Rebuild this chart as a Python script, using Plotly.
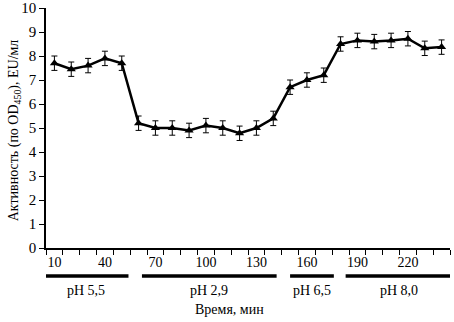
import plotly.graph_objects as go

time_min = [10, 20, 30, 40, 50, 60, 70, 80, 90, 100, 110, 120, 130, 140,
            150, 160, 170, 180, 190, 200, 210, 220, 230, 240]
activity = [7.7, 7.45, 7.6, 7.9, 7.7, 5.2, 5.0, 5.0, 4.9, 5.1, 5.0, 4.78, 5.0, 5.4,
            6.7, 7.0, 7.2, 8.5, 8.65, 8.6, 8.65, 8.72, 8.32, 8.37]
errors = [0.3] * len(activity)

tick_labels = [10, 40, 70, 100, 130, 160, 190, 220]
minor_ticks = list(range(5, 250, 10))

ph_labels = ["pH 5,5", "pH 2,9", "pH 6,5", "pH 8,0"]
ph_start = [3, 62, 150, 183]
ph_end = [54, 142, 176, 246]

FONT = "Liberation Serif"

fig = go.Figure()
fig.add_trace(go.Scatter(
    x=time_min, y=activity, mode="lines+markers",
    line=dict(color="black", width=2.5),
    marker=dict(symbol="triangle-up", size=8, color="black"),
    error_y=dict(type="data", array=errors, color="black", thickness=1, width=3),
    showlegend=False,
))

shapes = []
annotations = []
for lab, a, b in zip(ph_labels, ph_start, ph_end):
    shapes.append(dict(type="line", xref="x", yref="paper", x0=a, x1=b,
                       y0=-0.117, y1=-0.117, line=dict(color="black", width=3.5)))
    annotations.append(dict(x=(a + b) / 2, y=-0.179, xref="x", yref="paper",
                            text=lab, showarrow=False, yanchor="middle",
                            font=dict(family=FONT, size=14, color="black")))
annotations.append(dict(x=0.455, y=-0.258, xref="paper", yref="paper",
                        text="Время, мин", showarrow=False, yanchor="middle",
                        font=dict(family=FONT, size=14, color="black")))
annotations.append(dict(x=-0.077, y=0.49, xref="paper", yref="paper",
                        text="Активность (по OD<sub>450</sub>), EU/мл",
                        textangle=-90, showarrow=False,
                        xanchor="center", yanchor="middle",
                        font=dict(family=FONT, size=14, color="black")))

fig.update_layout(
    width=454, height=322,
    margin=dict(l=46, r=4, t=8, b=74),
    plot_bgcolor="white", paper_bgcolor="white",
    font=dict(family=FONT, size=14, color="black"),
    shapes=shapes, annotations=annotations,
    xaxis=dict(range=[5, 245], tickvals=tick_labels, ticks="", showgrid=False,
               zeroline=False, showline=True, linecolor="black", linewidth=1.5,
               tickfont=dict(family=FONT, size=14, color="black"),
               minor=dict(tickvals=minor_ticks, ticks="outside", ticklen=5,
                          tickcolor="black", tickwidth=1.2, showgrid=False)),
    yaxis=dict(range=[0, 10], dtick=1, ticks="outside", ticklen=5, tickwidth=1.2,
               tickcolor="black", showgrid=False, zeroline=False, showline=True,
               linecolor="black", linewidth=1.5, automargin=False,
               tickfont=dict(family=FONT, size=15, color="black")),
)

fig.write_html("out.html", config={"displayModeBar": False},
               post_script="document.body.style.margin='0';document.body.style.overflow='hidden';")
